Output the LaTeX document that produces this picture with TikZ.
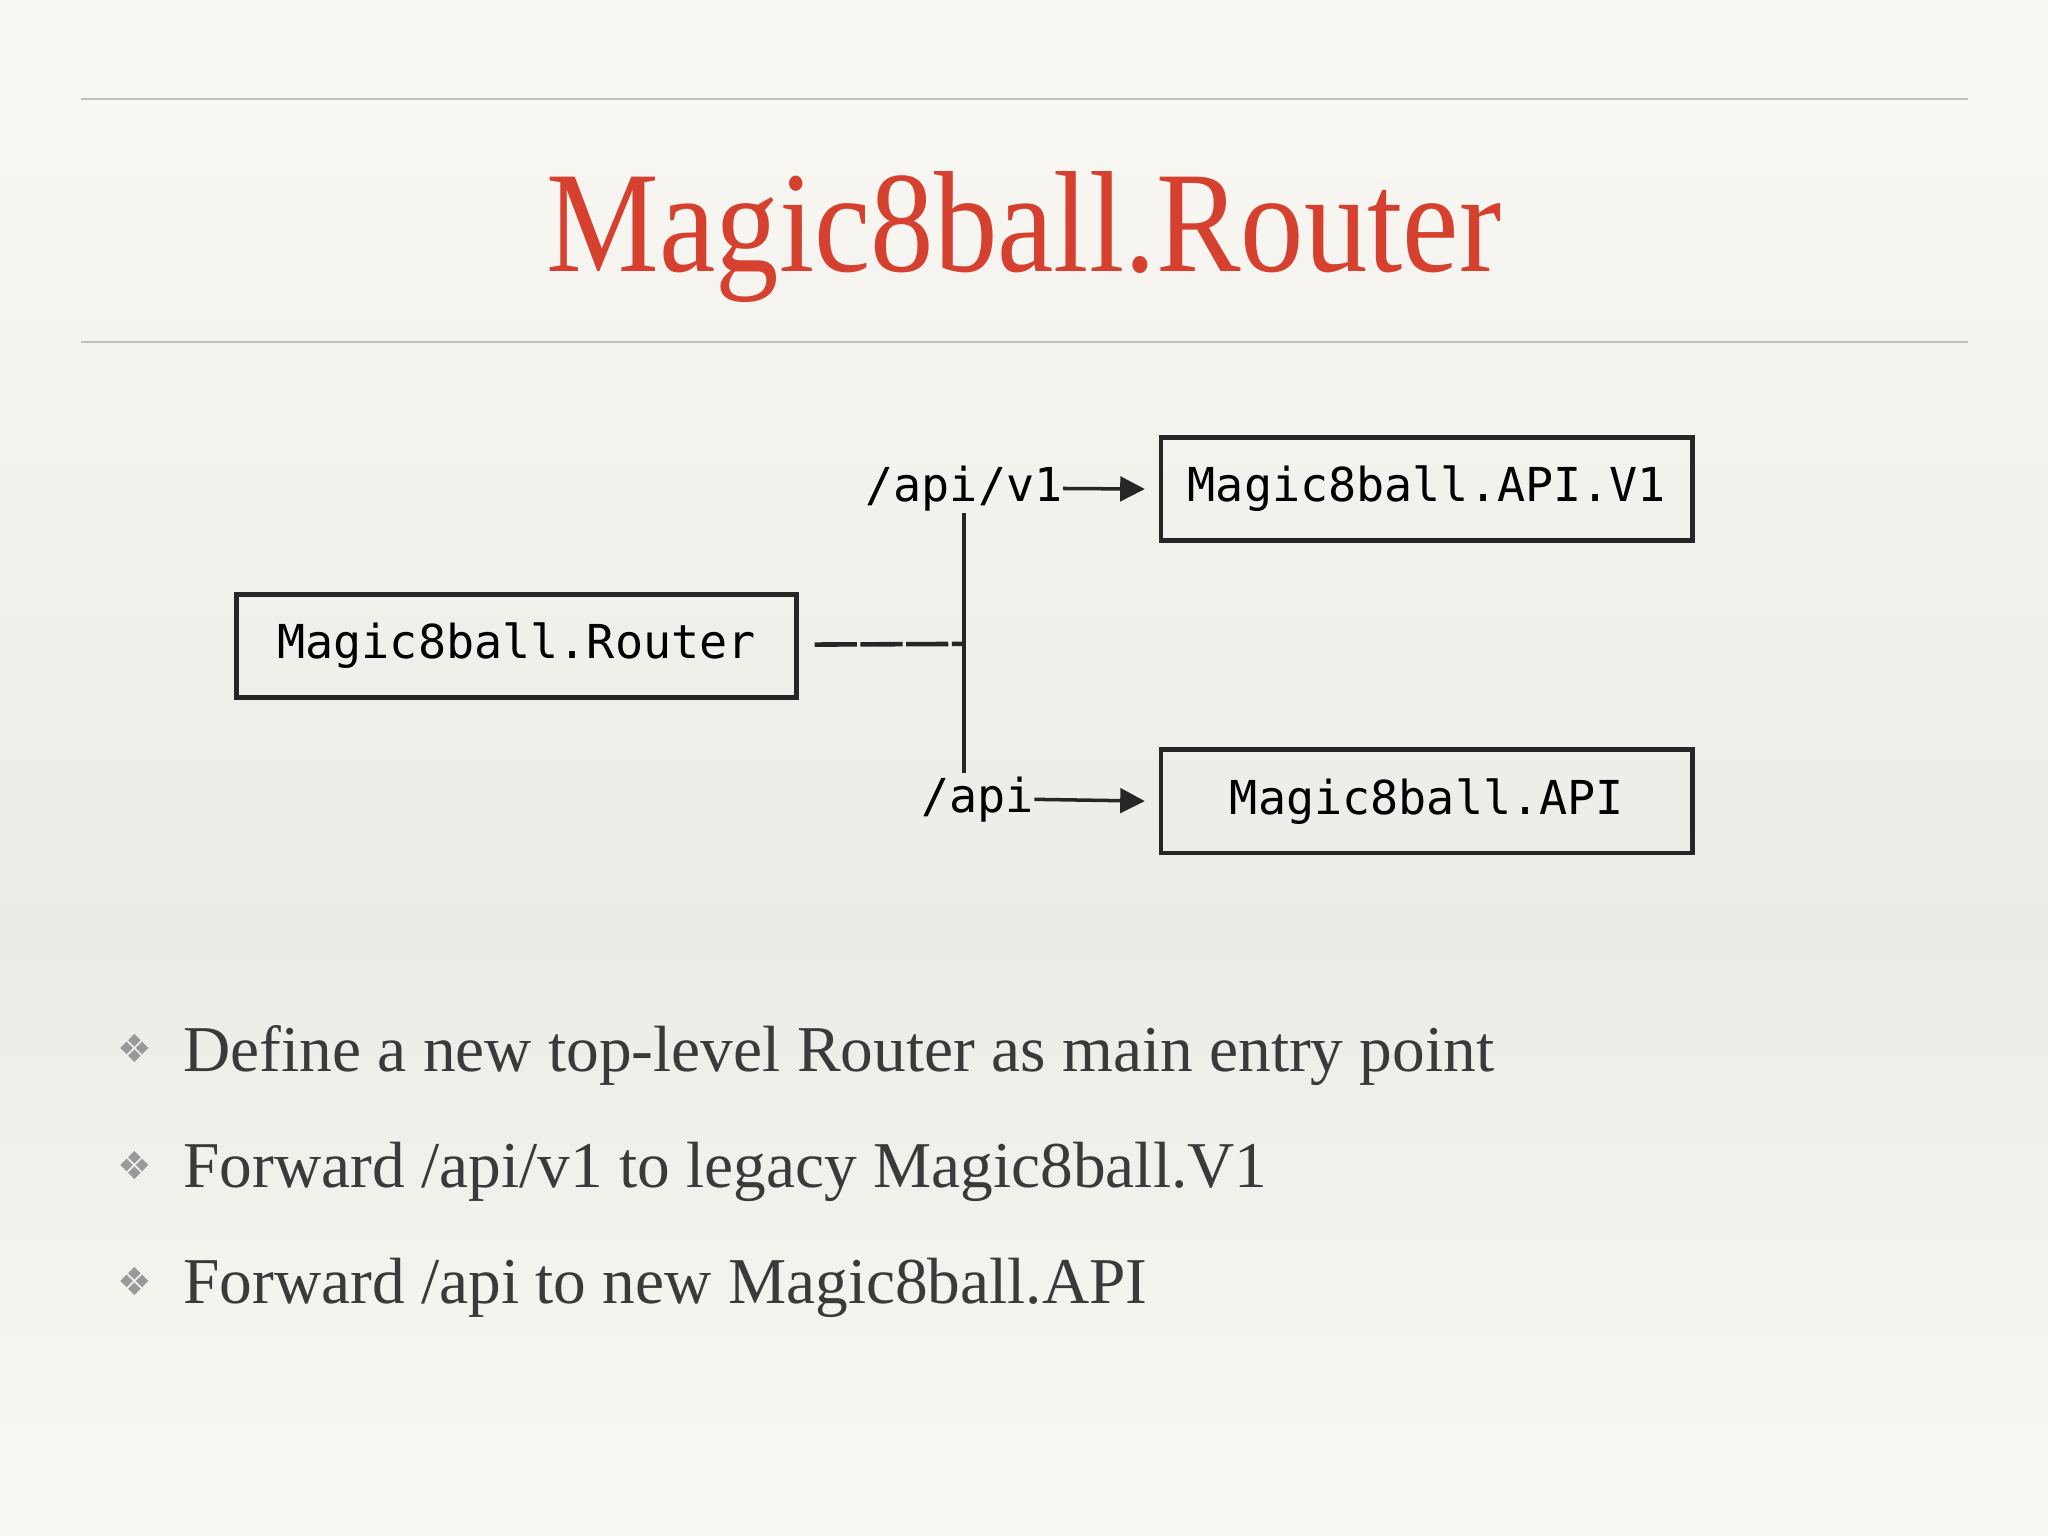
\documentclass[tikz,border=0pt]{standalone}
\usepackage{fontspec}
\setmainfont{Liberation Serif}
\newfontfamily\monof{DejaVu Sans Mono}
\newfontfamily\symf{DejaVu Sans}
\usetikzlibrary{arrows.meta}
\definecolor{bgA}{HTML}{F9F8F3}
\definecolor{bgB}{HTML}{ECEBE7}
\definecolor{titlered}{HTML}{D6402F}
\definecolor{bodytxt}{HTML}{3A3A3A}
\tikzset{
 box/.style={draw=black!85,line width=1.3pt,minimum width=429*0.013061cm,minimum height=79*0.013061cm,font=\monof\fontsize{13.3}{15}\selectfont,inner sep=0pt},
 boxr/.style={box,minimum width=407*0.013061cm},
 lbl/.style={font=\monof\fontsize{13.3}{15}\selectfont,inner sep=0pt},
 conn/.style={line width=1.3pt,draw=black!85},
 arr/.style={conn,line width=1pt,shorten >=4pt,-{Triangle[length=7pt,width=7pt]}},
 bullet/.style={font=\fontsize{18.6}{24}\selectfont,text=bodytxt,anchor=base west,inner sep=0pt},
 bsym/.style={font=\symf\fontsize{11}{12}\selectfont,text=black!40,inner sep=0pt},
 rule/.style={draw=black!25,line width=0.6pt}
}
\begin{document}
\begin{tikzpicture}[x=0.013061cm,y=-0.013061cm]
\useasboundingbox (0,0) rectangle (1568,1176);
\shade[top color=bgA,bottom color=bgB] (0,0) rectangle (1568,720);
\shade[top color=bgB,bottom color=bgA] (0,720) rectangle (1568,1176);
\draw[rule] (62,76) -- (1507,76);
\draw[rule] (62,262) -- (1507,262);
\node[text=titlered,font=\fontsize{41}{46}\selectfont,xscale=0.88,anchor=base] (title) at (784,208) {Magic8ball.Router};
\node[box] (router) at (395.5,494.5) {Magic8ball.Router};
\node[boxr] (v1) at (1092.5,374.5) {Magic8ball.API.V1};
\node[boxr] (api) at (1092.5,613.5) {Magic8ball.API};
\node[lbl,anchor=east] (lv1) at (814,374) {/api/v1};
\node[lbl,anchor=east] (lapi) at (792,612) {/api};
\coordinate (j) at (738,493);
\coordinate (jt) at (738,393);
\coordinate (jb) at (738,592);
\draw[conn,dash pattern=on 12pt off 1pt] (router.east) ++(12,-1) -- (j);
\draw[conn] (jt) -- (jb);
\draw[arr] (lv1.east) -- (v1.west);
\draw[arr] (lapi.east) -- (api.west);
\node[bsym] (b1) at (103,803) {❖};
\node[bsym] (b2) at (103,892) {❖};
\node[bsym] (b3) at (103,981) {❖};
\node[bullet] (t1) at (140,820) {Define a new top-level Router as main entry point};
\node[bullet] (t2) at (140,909) {Forward /api/v1 to legacy Magic8ball.V1};
\node[bullet] (t3) at (140,998) {Forward /api to new Magic8ball.API};
\end{tikzpicture}
\end{document}
